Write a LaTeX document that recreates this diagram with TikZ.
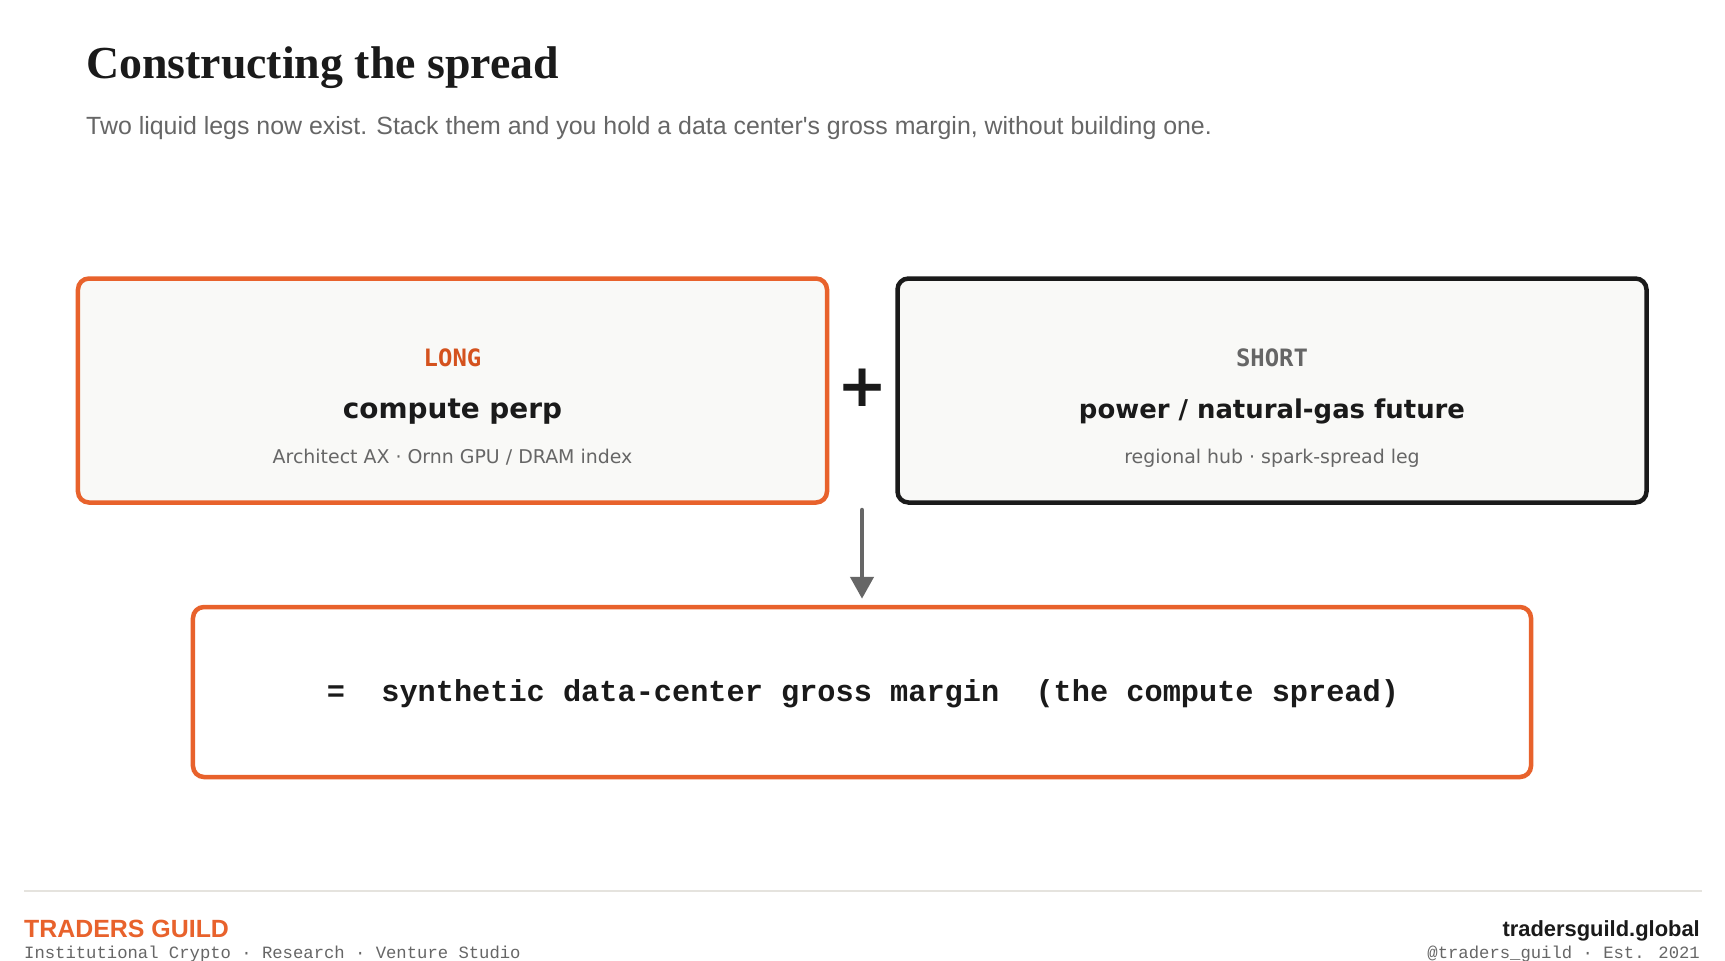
\documentclass[tikz,border=0pt]{standalone}
\usepackage{fontspec}
\setmainfont{Liberation Serif}
\newfontfamily\arialfont{Liberation Sans}
\newfontfamily\dejafont{DejaVu Sans}
\newfontfamily\dejamonofont{DejaVu Sans Mono}
\newfontfamily\courfont{Liberation Mono}
\usetikzlibrary{positioning}
\usetikzlibrary{calc}
\usetikzlibrary{arrows.meta}
\definecolor{gorange}{RGB}{232,98,44}
\definecolor{gdeep}{RGB}{212,82,30}
\definecolor{gink}{RGB}{26,26,26}
\definecolor{ggray}{RGB}{102,102,102}
\definecolor{gpaper}{RGB}{249,249,247}
\definecolor{grule}{RGB}{229,227,222}

\begin{document}
\begin{tikzpicture}[x=1bp, y=-1bp,
    leg/.style={draw, line width=4.5bp, rounded corners=11bp, fill=gpaper, minimum width=749bp, minimum height=224bp, inner sep=0pt},
    longleg/.style={leg, draw=gorange},
    shortleg/.style={leg, draw=gink},
    result/.style={draw=gorange, line width=4.5bp, rounded corners=11bp, fill=white, minimum width=1338bp, minimum height=170bp, inner sep=0pt},
    tag/.style={font=\dejamonofont\bfseries\fontsize{24}{28}\selectfont, anchor=base, inner sep=0pt},
    instr/.style={font=\dejafont\bfseries\fontsize{28}{32}\selectfont, text=gink, anchor=base, inner sep=0pt},
    venue/.style={font=\dejafont\fontsize{19}{23}\selectfont, text=ggray, anchor=base, inner sep=0pt},
    arrow/.style={-{Triangle[length=22bp, width=23bp]}, line width=4.5bp, line cap=round, draw=ggray},
]
\useasboundingbox[fill=white] (0,0) rectangle (1725,960);

\node[anchor=base west, inner sep=0pt, text=gink, font=\bfseries\fontsize{46}{52}\selectfont] (title) at (86,78) {Constructing the spread};
\node[anchor=base west, inner sep=0pt, text=ggray, font=\arialfont\fontsize{25}{30}\selectfont] (subtitle) at (86,134) {Two liquid legs now exist. Stack them and you hold a data center's gross margin, without building one.};

\node[longleg] (long) at (452.5,390.5) {};
\node[shortleg] (short) at (1272,390.5) {};
\node[font=\dejafont\bfseries\fontsize{60}{64}\selectfont, text=gink, inner sep=0pt] (plus) at (863,388) {+};

\node[tag, text=gdeep] (longtag) at (452.5,366) {LONG};
\node[instr] (longname) at (452.5,418) {compute perp};
\node[venue] (longvenue) at (452.5,463) {Architect AX · Ornn GPU / DRAM index};

\node[tag, text=ggray] (shorttag) at (1272,366) {SHORT};
\node[instr, font=\dejafont\bfseries\fontsize{26}{30}\selectfont] (shortname) at (1272,418) {power / natural-gas future};
\node[venue] (shortvenue) at (1272,463) {regional hub · spark-spread leg};

\node[result] (spread) at (862,692) {};
\node[font=\courfont\bfseries\fontsize{30.4}{34}\selectfont, text=gink, anchor=base, inner sep=0pt] (spreadtext) at (863,701) {=~~synthetic data-center gross margin~~(the compute spread)};

\coordinate (join) at (862,510);
\draw[arrow, shorten >=6bp] (join) -- (spread.north);

\draw[grule, line width=2.5bp] (24,891) -- (1702,891);
\node[anchor=base west, inner sep=0pt, text=gorange, font=\arialfont\bfseries\fontsize{25}{29}\selectfont] (brand) at (24,937) {TRADERS GUILD};
\node[anchor=base west, inner sep=0pt, text=ggray, font=\courfont\fontsize{17.3}{20}\selectfont] (motto) at (24,958) {Institutional Crypto · Research · Venture Studio};
\node[anchor=base east, inner sep=0pt, text=gink, font=\arialfont\bfseries\fontsize{22}{26}\selectfont] (site) at (1700,936) {tradersguild.global};
\node[anchor=base east, inner sep=0pt, text=ggray, font=\courfont\fontsize{17.3}{20}\selectfont] (handle) at (1700,958) {@traders\_guild · Est. 2021};
\end{tikzpicture}
\end{document}
